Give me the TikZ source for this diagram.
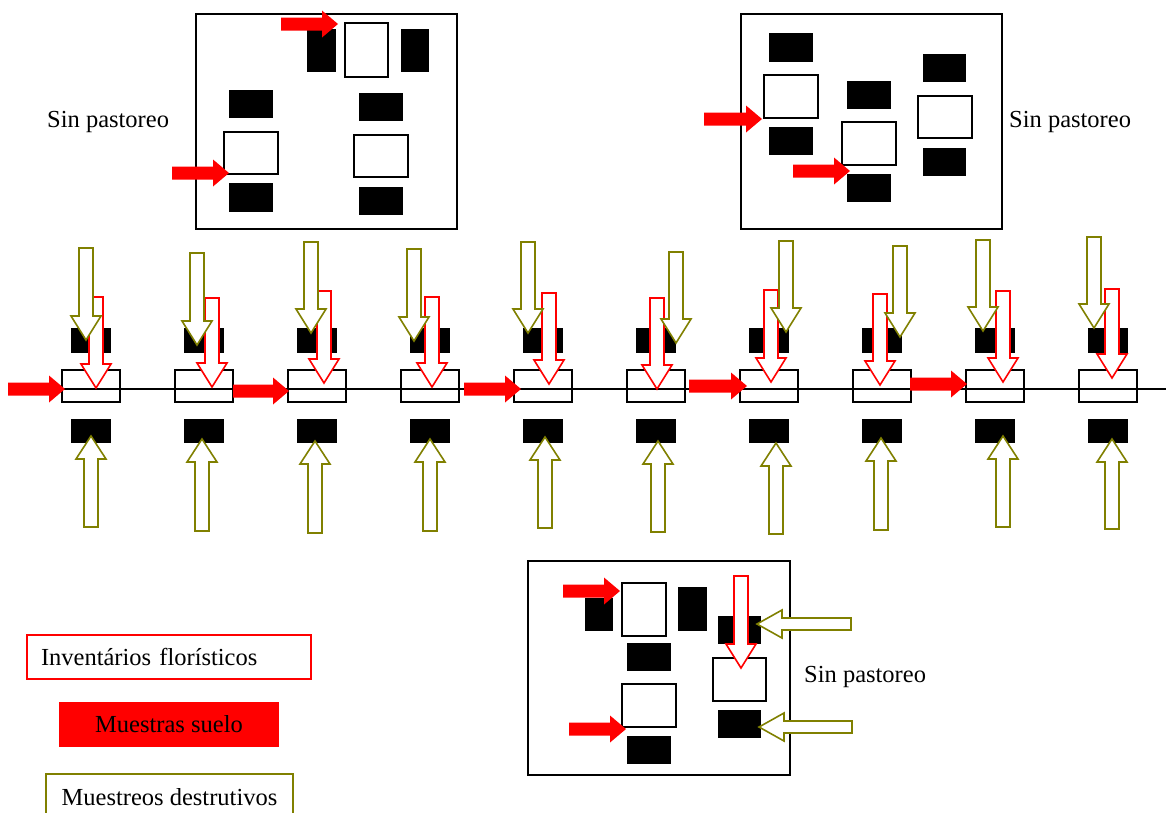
\documentclass[tikz,border=0pt]{standalone}
\usepackage{fontspec}
\setmainfont{Liberation Serif}
\definecolor{olivegreen}{RGB}{128,128,0}
\tikzset{
  pics/downarr/.style={code={
    \draw[pic actions] (-7,-#1) -- (7,-#1) -- (7,-24) -- (15,-24) -- (0,0)
      -- (-15,-24) -- (-7,-24) -- cycle;}},
  pics/uparr/.style={code={
    \draw[pic actions] (-7,#1) -- (7,#1) -- (7,23) -- (15,23) -- (0,0)
      -- (-15,23) -- (-7,23) -- cycle;}},
  pics/leftarr/.style={code={
    \draw[pic actions] (#1,-6) -- (#1,6) -- (25,6) -- (25,14) -- (0,0)
      -- (25,-14) -- (25,-6) -- cycle;}},
  pics/rightarr/.style={code={
    \fill[pic actions] (-#1,-6.5) -- (-16,-6.5) -- (-16,-13.5) -- (0,0)
      -- (-16,13.5) -- (-16,6.5) -- (-#1,6.5) -- cycle;}}
}
\begin{document}
\begin{tikzpicture}[x=1pt,y=-1pt,font=\fontsize{24.5}{29}\selectfont,line join=miter,
    plotbox/.style={draw=black,line width=1.4pt},
    redhollow/.style={draw=red,fill=white,line width=1.6pt},
    olivehollow/.style={draw=olivegreen,fill=white,line width=1.6pt},
    redsolid/.style={fill=red},
    label/.style={anchor=base west,inner xsep=0pt}]
  \useasboundingbox (0,0) rectangle (1166,812);

  % transect with the ten plots
  \foreach \i in {0,...,9} {
    \draw[plotbox,fill=white] (62+113*\i,370) rectangle ++(58,32);
  }
  \draw[line width=1.3pt] (62,389) -- (1166,389);
  \foreach \i in {0,...,9} {
    \fill (71+113*\i,328) rectangle ++(40,25);
    \fill (71+113*\i,419) rectangle ++(40,24);
  }

  % inventories (red), destructive samplings (olive)
  \foreach \x/\t/\l in {96/388/91,212/387/89,324/383/92,432/387/90,549/384/91,
      657/389/91,771/382/92,880/385/91,1003/382/91,1112/378/89}
    \pic[redhollow] at (\x,\t) {downarr=\l};
  \foreach \x/\t/\l in {86/340/92,197/345/92,311/333/91,414/341/92,528/333/91,
      676/343/91,786/332/91,900/337/91,983/331/91,1094/328/91}
    \pic[olivehollow] at (\x,\t) {downarr=\l};
  \foreach \x/\t/\l in {91/436/91,202/439/92,315/441/92,430/439/92,545/437/91,
      658/441/91,776/443/91,881/438/92,1003/436/91,1112/439/90}
    \pic[olivehollow] at (\x,\t) {uparr=\l};

  % soil samples on the transect
  \foreach \x/\y/\l in {65/389/57,289/391/56,521/389/57,747/386/58,967/384/57}
    \pic[redsolid] at (\x,\y) {rightarr=\l};

  % top left enclosure
  \draw[plotbox] (196,14) rectangle (457,229);
  \fill (307,29) rectangle (336,72);
  \fill (401,29) rectangle (429,72);
  \fill (229,90) rectangle (273,118);
  \fill (359,93) rectangle (403,121);
  \fill (229,183) rectangle (273,212);
  \fill (359,187) rectangle (403,215);
  \draw[plotbox] (345,23) rectangle (388,77);
  \draw[plotbox] (224,132) rectangle (278,174);
  \draw[plotbox] (354,135) rectangle (408,177);
  \pic[redsolid] at (338,24) {rightarr=57};
  \pic[redsolid] at (229,173) {rightarr=57};
  \node[label] (sp1) at (47,127) {Sin pastoreo};

  % top right enclosure
  \draw[plotbox] (741,14) rectangle (1002,229);
  \fill (769,33) rectangle (813,62);
  \fill (769,127) rectangle (813,155);
  \fill (847,81) rectangle (891,109);
  \fill (847,174) rectangle (891,202);
  \fill (923,54) rectangle (966,82);
  \fill (923,148) rectangle (966,176);
  \draw[plotbox] (764,75) rectangle (818,118);
  \draw[plotbox] (842,122) rectangle (896,165);
  \draw[plotbox] (918,96) rectangle (972,138);
  \pic[redsolid] at (762,119) {rightarr=58};
  \pic[redsolid] at (850,171) {rightarr=57};
  \node[label] (sp2) at (1009,127) {Sin pastoreo};

  % bottom enclosure
  \draw[plotbox] (528,561) rectangle (790,775);
  \fill (585,598) rectangle (613,631);
  \fill (678,587) rectangle (707,631);
  \fill (718,616) rectangle (761,644);
  \fill (627,643) rectangle (671,671);
  \fill (718,710) rectangle (761,738);
  \fill (627,736) rectangle (671,764);
  \draw[plotbox] (622,583) rectangle (666,636);
  \draw[plotbox] (713,658) rectangle (766,701);
  \draw[plotbox] (622,684) rectangle (676,727);
  \pic[redsolid] at (620,591) {rightarr=57};
  \pic[redsolid] at (626,729) {rightarr=57};
  \pic[redhollow] at (741,668) {downarr=92};
  \pic[olivehollow] at (757,624) {leftarr=94};
  \pic[olivehollow] at (759,727) {leftarr=93};
  \node[label] (sp3) at (804,682) {Sin pastoreo};

  % legend
  \node[draw=red,line width=1.3pt,minimum width=284pt,minimum height=44pt,
    text width=256pt,inner xsep=14pt,align=left] (inv) at (169,657)
    {Inventários florísticos};
  \node[fill=red,minimum width=220pt,minimum height=45pt] (suelo) at (169,724.5)
    {Muestras suelo};
  \node[draw=olivegreen,line width=1.5pt,minimum width=247pt,minimum height=46pt]
    (destr) at (169.5,797) {Muestreos destrutivos};
\end{tikzpicture}
\end{document}
